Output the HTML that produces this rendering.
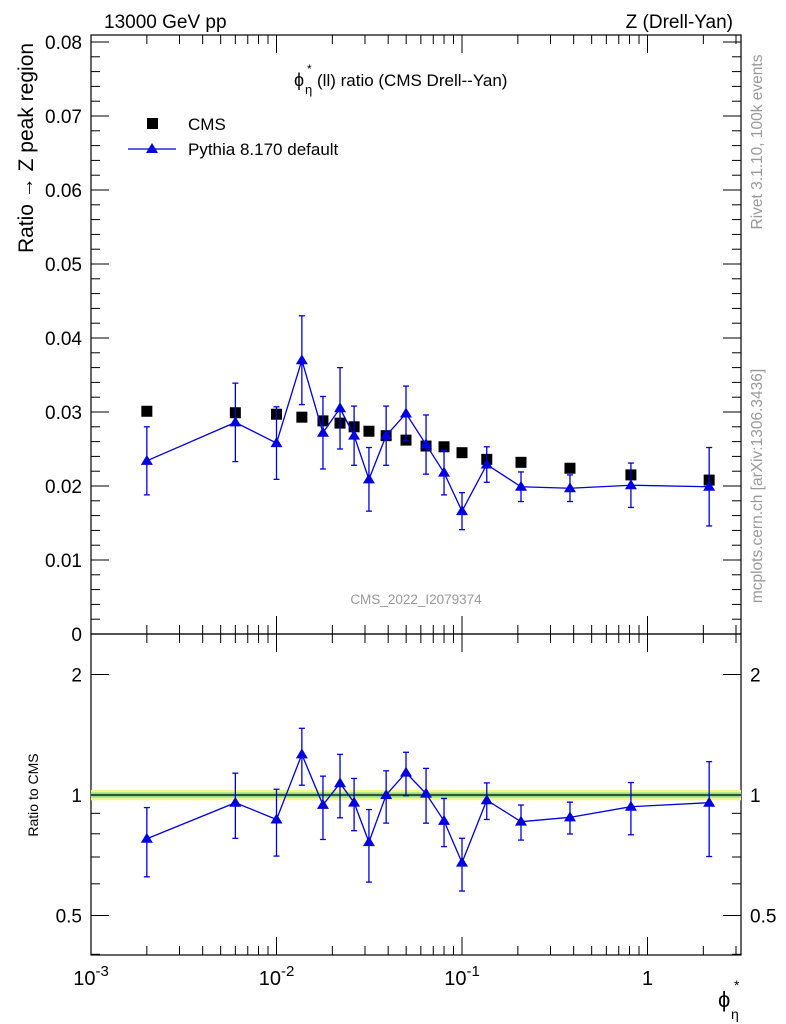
<!DOCTYPE html>
<html><head><meta charset="utf-8"><style>
body{margin:0;background:#fff;}
svg{display:block;font-family:"Liberation Sans",sans-serif;}
</style></head><body>
<svg id="c" width="786" height="1024" viewBox="0 0 786 1024" xmlns="http://www.w3.org/2000/svg">
<text x="104" y="28" font-size="19">13000 GeV pp</text>
<text x="733" y="28" font-size="19" text-anchor="end">Z (Drell-Yan)</text>
<text transform="translate(33,148) rotate(-90)" font-size="21" text-anchor="middle">Ratio → Z peak region</text>
<text transform="translate(38,795) rotate(-90)" font-size="14" text-anchor="middle">Ratio to CMS</text>
<text transform="translate(762,142) rotate(-90)" font-size="15.5" fill="#999" text-anchor="middle">Rivet 3.1.10,  100k events</text>
<text transform="translate(762,486) rotate(-90)" font-size="15.5" fill="#999" text-anchor="middle">mcplots.cern.ch [arXiv:1306.3436]</text>
<text x="416" y="604" font-size="13.5" fill="#999" text-anchor="middle">CMS_2022_I2079374</text>
<g>
<text x="294" y="86" font-size="18">ϕ</text><text x="305" y="94" font-size="13">η</text><text x="307" y="73" font-size="12">*</text>
<text x="317" y="86" font-size="17">(ll) ratio (CMS Drell--Yan)</text>
</g>
<g>
<rect x="147" y="118" width="11" height="11" fill="#000"/>
<text x="188" y="130" font-size="17">CMS</text>
<line x1="128" y1="149" x2="176" y2="149" stroke="#0000e0" stroke-width="1.3"/>
<polygon points="152,143 158,153 146,153" fill="#0000e0"/>
<text x="188" y="155" font-size="17">Pythia 8.170 default</text>
</g>
<g id="g"></g>
<g>
<text x="718" y="1007" font-size="22">ϕ</text><text x="731" y="1019" font-size="14">η</text><text x="734" y="990" font-size="14">*</text>
</g>
</svg>
<script>
const xVals=[0.002,0.006,0.01,0.0137,0.0178,0.022,0.0262,0.0315,0.039,0.0499,0.064,0.08,0.1,0.136,0.208,0.382,0.814,2.15];
const cmsVals=[0.0301,0.0299,0.0297,0.0293,0.0288,0.0285,0.0280,0.0274,0.0268,0.0262,0.0254,0.0253,0.0245,0.0236,0.0232,0.0224,0.0215,0.0208];
const pyVals=[0.0234,0.0286,0.0258,0.0370,0.0272,0.0305,0.0268,0.0209,0.0268,0.0298,0.0256,0.0218,0.0166,0.0229,0.0199,0.0197,0.0201,0.0199];
const pyErr=[0.0046,0.0053,0.0049,0.0060,0.0049,0.0055,0.0040,0.0043,0.0040,0.0037,0.0040,0.0030,0.0025,0.0024,0.0020,0.0018,0.0030,0.0053];
const yTickLabels=["0","0.01","0.02","0.03","0.04","0.05","0.06","0.07","0.08"];
const rTickLabels=["0.5","1","2"];
const xTickLabels=["10^-3","10^-2","10^-1","1"];

const NS="http://www.w3.org/2000/svg";
const G=document.getElementById('g');
const L=91,R=741,T1=35,B1=634,B2=955;
const X=v=>L+(Math.log10(v)+3)*185.5;
const Y=v=>634-v*7400;
const YR=v=>795-Math.log2(v)*120.5;
function mk(t,a,p){const e=document.createElementNS(NS,t);for(const k in a)e.setAttribute(k,a[k]);(p||G).appendChild(e);return e;}

let f1=mk('rect',{x:L,y:T1,width:R-L,height:B1-T1,fill:'none',stroke:'#000','stroke-width':1.2});


let f2=mk('rect',{x:L,y:B1,width:R-L,height:B2-B1,fill:'none',stroke:'#000','stroke-width':1.2});



const band2=mk('rect',{x:L,y:YR(1.03),width:R-L,height:YR(0.97)-YR(1.03),fill:'#f5f58a'});


const band1=mk('rect',{x:L,y:YR(1.015),width:R-L,height:YR(0.985)-YR(1.015),fill:'#8de08d'});


const one=mk('line',{x1:L,x2:R,y1:YR(1),y2:YR(1),stroke:'#000','stroke-width':1.2});



for(let d=-3;d<=0;d++){for(let m=1;m<=9;m++){const v=m*Math.pow(10,d);const px=X(v);if(px>R)continue;const len=m==1?18:9;
 for(const [a,b] of [[T1,B1],[B1,B2]]){mk('line',{x1:px,x2:px,y1:b,y2:b-len,stroke:'#000'});mk('line',{x1:px,x2:px,y1:a,y2:a+len,stroke:'#000'});}}}
xTickLabels.forEach((s,i)=>{const px=X(Math.pow(10,i-3));const t=mk('text',{x:px,y:985,'font-size':20,'text-anchor':'middle'});
 
 
 if(s.indexOf('^')>0){const p=s.split('^');t.textContent=p[0];const sp=mk('tspan',{dy:-9,'font-size':15},t);sp.textContent=p[1];}else t.textContent=s;});
for(let i=0;i<=40;i++){const v=i*0.002;const py=Y(v);if(py<T1)break;const len=i%5==0?18:9;
 mk('line',{x1:L,x2:L+len,y1:py,y2:py,stroke:'#000'});mk('line',{x1:R,x2:R-len,y1:py,y2:py,stroke:'#000'});}
yTickLabels.forEach((s,i)=>{const t=mk('text',{x:82,y:Y(i*0.01)+7,'font-size':19,'text-anchor':'end'});t.textContent=s;
 
 });
[0.4,0.5,0.6,0.7,0.8,0.9,1,2].forEach(v=>{const py=YR(v);const len=(v==0.5||v==1||v==2)?18:9;
 mk('line',{x1:L,x2:L+len,y1:py,y2:py,stroke:'#000'});mk('line',{x1:R,x2:R-len,y1:py,y2:py,stroke:'#000'});});
rTickLabels.forEach(s=>{const v=parseFloat(s);
 const t=mk('text',{x:82,y:YR(v)+7,'font-size':19,'text-anchor':'end'});t.textContent=s;
 
 
 const t2=mk('text',{x:750,y:YR(v)+7,'font-size':19});t2.textContent=s;
 
 });

xVals.forEach((x,i)=>{const r=mk('rect',{x:X(x)-5.5,y:Y(cmsVals[i])-5.5,width:11,height:11,fill:'#000'});
 
 });
const C='#0000e0';
const pl=mk('polyline',{points:xVals.map((x,i)=>X(x)+','+Y(pyVals[i])).join(' '),fill:'none',stroke:C,'stroke-width':1.3});


const rl=mk('polyline',{points:xVals.map((x,i)=>X(x)+','+YR(pyVals[i]/cmsVals[i])).join(' '),fill:'none',stroke:C,'stroke-width':1.3});


function tri(px,py,name){const p=mk('polygon',{points:`${px},${py-6} ${px+6},${py+4} ${px-6},${py+4}`,fill:C});
 
 }
xVals.forEach((x,i)=>{const px=X(x);
 const eb=mk('line',{x1:px,x2:px,y1:Y(pyVals[i]+pyErr[i]),y2:Y(pyVals[i]-pyErr[i]),stroke:C,'stroke-width':1.3});
 
 
 [pyVals[i]+pyErr[i],pyVals[i]-pyErr[i]].forEach(v=>mk('line',{x1:px-3,x2:px+3,y1:Y(v),y2:Y(v),stroke:C,'stroke-width':1.3}));
 tri(px,Y(pyVals[i]),'pythia-point');
 const r=pyVals[i]/cmsVals[i],re=pyErr[i]/cmsVals[i];
 const eb2=mk('line',{x1:px,x2:px,y1:YR(r+re),y2:YR(r-re),stroke:C,'stroke-width':1.3});
 
 
 [r+re,r-re].forEach(v=>mk('line',{x1:px-3,x2:px+3,y1:YR(v),y2:YR(v),stroke:C,'stroke-width':1.3}));
 tri(px,YR(r),'ratio-point');});
</script>
</body></html>
